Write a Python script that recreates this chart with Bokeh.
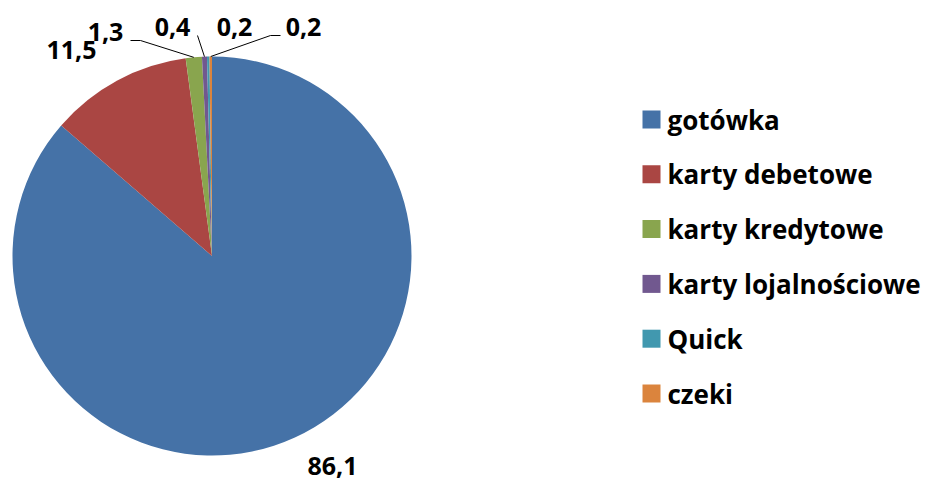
import math
from bokeh.plotting import figure
from bokeh.models import ColumnDataSource, Range1d
from bokeh.core.properties import value
from bokeh.embed import file_html
from bokeh.resources import INLINE

# ---- data ----
categories = ["gotówka", "karty debetowe", "karty kredytowe", "karty lojalnościowe", "Quick", "czeki"]
shares = [86.1, 11.5, 1.3, 0.4, 0.2, 0.2]
share_labels = ["86,1", "11,5", "1,3", "0,4", "0,2", "0,2"]
colors = ["#4572A7", "#AA4643", "#89A54E", "#71588F", "#4198AF", "#DB843D"]

# ---- layout (picture pixel coords, y measured from top) ----
W, H = 926, 483
def Y(y):
    return H - y

CX, CY, R = 211.5, Y(255.5), 199.5
label_pos = [(332, 465), (71, 49), (105, 31), (172, 26), (234, 26), (303, 26)]
# leader lines: slice index -> elbow points after the slice-edge point
leaders = {2: [(140, 40), (130, 40)], 3: [(197, 35)], 5: [(270, 35), (280, 35)]}
legend_x_sq, legend_x_txt = 651, 667
legend_y0, legend_dy = 119, 54.8
FONT = "Open Sans"
FS_LBL = "25px"
FS_LEG = "26px"

total = sum(shares)
starts, ends, mids = [], [], []
cum = 0.0
for s in shares:
    a0 = math.pi / 2 - 2 * math.pi * cum / total
    cum += s
    a1 = math.pi / 2 - 2 * math.pi * cum / total
    starts.append(a0)
    ends.append(a1)
    mids.append((a0 + a1) / 2)

p = figure(width=W, height=H, output_backend="svg", toolbar_location=None,
           x_range=Range1d(0, W), y_range=Range1d(0, H), min_border=0)
p.axis.visible = False
p.grid.visible = False
p.outline_line_color = None
p.background_fill_color = "white"
p.border_fill_color = "white"

src = ColumnDataSource(dict(start=starts, end=ends, color=colors, cat=categories))
p.wedge(x=CX, y=CY, radius=R, start_angle="start", end_angle="end", direction="clock",
        fill_color="color", line_color=None, source=src)

# leader lines
xs, ys = [], []
for i, pts in leaders.items():
    ex = CX + R * math.cos(mids[i])
    ey = CY + R * math.sin(mids[i])
    xs.append([ex] + [pt[0] for pt in pts])
    ys.append([ey] + [Y(pt[1]) for pt in pts])
p.multi_line(xs=xs, ys=ys, line_color="black", line_width=1)

# data labels
p.text(x=[pt[0] for pt in label_pos], y=[Y(pt[1]) for pt in label_pos], text=share_labels,
       text_font=value(FONT), text_font_style="bold", text_font_size=FS_LBL,
       text_align="center", text_baseline="middle", text_color="black")

# legend
ly = [Y(legend_y0 + i * legend_dy) for i in range(len(categories))]
p.rect(x=[legend_x_sq] * len(categories), y=ly, width=18, height=18,
       fill_color=colors, line_color=None)
p.text(x=[legend_x_txt] * len(categories), y=ly, text=categories,
       text_font=value(FONT), text_font_style="bold", text_font_size=FS_LEG,
       text_align="left", text_baseline="middle", text_color="black")

open("out.html", "w").write(file_html(p, INLINE))
